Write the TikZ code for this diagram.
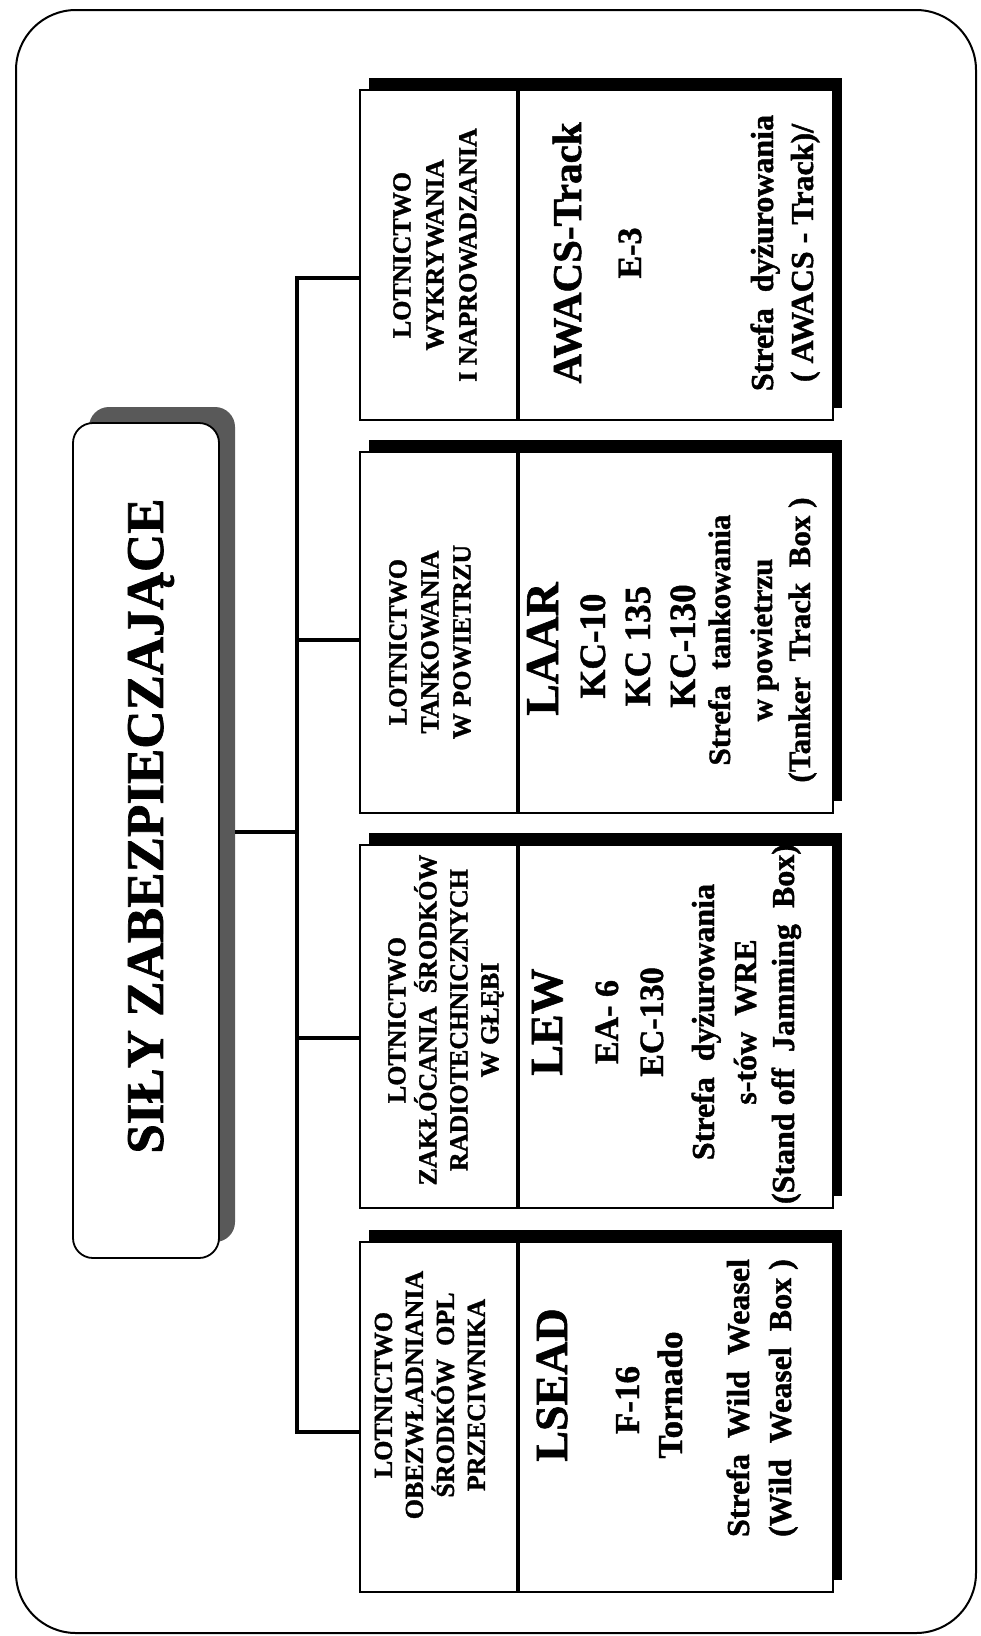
\documentclass[tikz,border=0pt]{standalone}
\usepackage{fontspec}
\setmainfont{Liberation Serif}[BoldFeatures={FakeBold=1.3}]
\begin{document}
\begin{tikzpicture}[x=1pt,y=-1pt,
  frame/.style={draw, line width=2pt, rounded corners=60pt},
  boxshadow/.style={fill=black, inner sep=0, outer sep=0, minimum width=473pt},
  boxbody/.style={draw, fill=white, line width=1.8pt, inner sep=0, outer sep=0, minimum width=473pt},
  divider/.style={line width=4.5pt},
  link/.style={line width=4pt},
  tshadow/.style={fill=black!65, rounded corners=20pt, inner sep=0, outer sep=0, minimum width=146pt, minimum height=835pt},
  tbody/.style={draw, fill=white, line width=1.8pt, rounded corners=20pt, inner sep=0, outer sep=0, minimum width=146pt, minimum height=835pt},
  cat/.style={rotate=90, align=center, inner sep=0, font=\bfseries\fontsize{26}{32}\selectfont},
  code/.style={rotate=90, anchor=base, inner sep=0, font=\bfseries\fontsize{46}{50}\selectfont},
  plane/.style={rotate=90, anchor=base, inner sep=0, font=\bfseries\fontsize{36}{40}\selectfont},
  zone/.style={rotate=90, anchor=base, inner sep=0, font=\bfseries\fontsize{32}{36}\selectfont},
]
% background and outer frame
\path[fill=white] (0,0) rectangle (980,1636);
\draw[frame] (16,10) rectangle (976,1633);

% title
\node[tshadow] (tsh) at (162,824.5) {};
\node[tbody] (tbox) at (146,840.5) {};
\node[rotate=90, inner sep=0, font=\bfseries\fontsize{53}{60}\selectfont] (ttl) at (151,826) {SIŁY ZABEZPIECZAJĄCE};

% boxes: shadows
\node[boxshadow, minimum height=330pt] (s1) at (605.5,243) {};
\node[boxshadow, minimum height=361pt] (s2) at (605.5,620.5) {};
\node[boxshadow, minimum height=363pt] (s3) at (605.5,1014.5) {};
\node[boxshadow, minimum height=350pt] (s4) at (605.5,1405) {};
% boxes: bodies
\node[boxbody, minimum height=330pt] (b1) at (596.5,255) {};
\node[boxbody, minimum height=361pt] (b2) at (596.5,632.5) {};
\node[boxbody, minimum height=363pt] (b3) at (596.5,1026.5) {};
\node[boxbody, minimum height=350pt] (b4) at (596.5,1417) {};
% dividers
\draw[divider] ([xshift=158pt]b1.north west) -- ([xshift=158pt]b1.south west);
\draw[divider] ([xshift=158pt]b2.north west) -- ([xshift=158pt]b2.south west);
\draw[divider] ([xshift=158pt]b3.north west) -- ([xshift=158pt]b3.south west);
\draw[divider] ([xshift=158pt]b4.north west) -- ([xshift=158pt]b4.south west);

% connectors
\coordinate (j1) at (297,278);
\coordinate (j2) at (297,640);
\coordinate (j3) at (297,1038);
\coordinate (j4) at (297,1432);
\coordinate (jt) at (297,832);
\draw[link] (j1 -| b1.west) -- (j1) -- (j4) -- (j4 -| b4.west);
\draw[link] (j2) -- (j2 -| b2.west);
\draw[link] (j3) -- (j3 -| b3.west);
\draw[link] (jt -| tsh.east) -- (jt);

% box 1
\node[cat, font=\bfseries\fontsize{26}{33}\selectfont] (c1) at (435,255) {LOTNICTWO\\WYKRYWANIA\\I NAPROWADZANIA};
\node[code, font=\bfseries\fontsize{41}{46}\selectfont] (r1a) at (581,253) {AWACS-Track};
\node[plane, font=\bfseries\fontsize{34}{40}\selectfont] (r1b) at (641,253) {E-3};
\node[zone] (r1c) at (773,253) {Strefa\ \ dyżurowania};
\node[zone] (r1d) at (813,253) {( AWACS - Track)/};

% box 2
\node[cat] (c2) at (430,642) {LOTNICTWO\\TANKOWANIA\\W POWIETRZU};
\node[code, font=\bfseries\fontsize{47}{50}\selectfont] (r2a) at (558,649) {LAAR};
\node[plane, font=\bfseries\fontsize{37}{40}\selectfont] (r2b) at (605,646) {KC-10};
\node[plane, font=\bfseries\fontsize{37}{40}\selectfont] (r2c) at (650,646) {KC 135};
\node[plane, font=\bfseries\fontsize{37}{40}\selectfont] (r2d) at (695,646) {KC-130};
\node[zone, font=\bfseries\fontsize{31}{36}\selectfont] (r2e) at (730,640) {Strefa\ \ tankowania};
\node[zone, font=\bfseries\fontsize{31}{36}\selectfont] (r2f) at (772,640) {w powietrzu};
\node[zone, font=\bfseries\fontsize{31}{36}\selectfont] (r2g) at (810,640) {(Tanker\ \ Track\ \ Box )};

% box 3
\node[cat, font=\bfseries\fontsize{26}{31}\selectfont] (c3) at (446,1020) {LOTNICTWO\\ZAKŁÓCANIA\ \ ŚRODKÓW\\RADIOTECHNICZNYCH\\W GŁĘBI};
\node[code] (r3a) at (562,1022) {LEW};
\node[plane, font=\bfseries\fontsize{34}{40}\selectfont] (r3b) at (618,1022) {EA- 6};
\node[plane, font=\bfseries\fontsize{34}{40}\selectfont] (r3c) at (663,1022) {EC-130};
\node[zone] (r3d) at (714,1022) {Strefa\ \ dyżurowania};
\node[zone] (r3e) at (756,1022) {s-tów\ \ WRE};
\node[zone] (r3f) at (794,1024) {(Stand off\ \ Jamming\ \ Box)};

% box 4
\node[cat, font=\bfseries\fontsize{26}{31}\selectfont] (c4) at (430,1395) {LOTNICTWO\\OBEZWŁADNIANIA\\ŚRODKÓW\ \ OPL\\PRZECIWNIKA};
\node[code] (r4a) at (567,1385) {LSEAD};
\node[plane, font=\bfseries\fontsize{35}{40}\selectfont] (r4b) at (639,1400) {F-16};
\node[plane, font=\bfseries\fontsize{35}{40}\selectfont] (r4c) at (682,1395) {Tornado};
\node[zone] (r4d) at (749,1398) {Strefa\ \ Wild\ \ Weasel};
\node[zone] (r4e) at (791,1398) {(Wild\ \ Weasel\ \ Box )};
\end{tikzpicture}
\end{document}
